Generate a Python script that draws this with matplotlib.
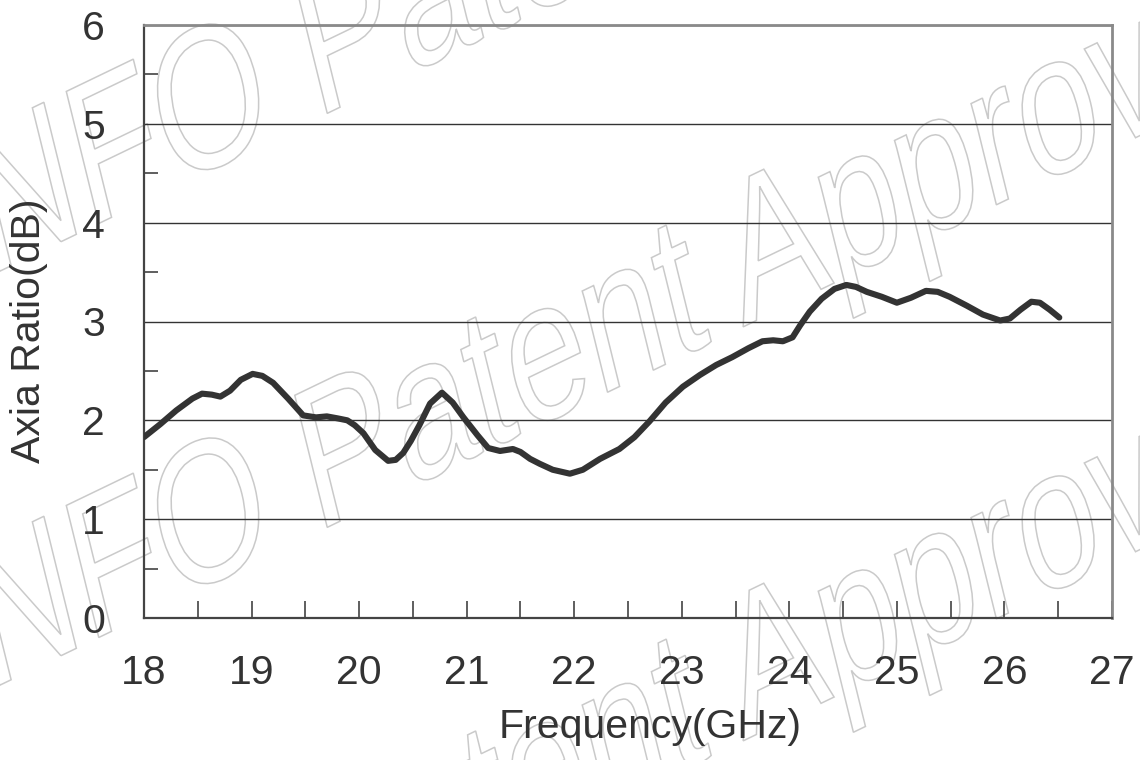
import matplotlib
matplotlib.use("Agg")
import matplotlib.pyplot as plt
from matplotlib.patches import PathPatch
from matplotlib.textpath import TextPath
from matplotlib.font_manager import FontProperties
from matplotlib.transforms import Affine2D, IdentityTransform
import numpy as np

# ---------- data ----------
freq_ghz = [18.00, 18.15, 18.30, 18.45, 18.54, 18.63, 18.71, 18.80, 18.90, 19.01,
            19.10, 19.20, 19.34, 19.48, 19.60, 19.70, 19.80, 19.89, 19.96, 20.04,
            20.15, 20.27, 20.34, 20.41, 20.48, 20.56, 20.66, 20.77, 20.87, 20.97,
            21.10, 21.20, 21.31, 21.43, 21.50, 21.59, 21.68, 21.80, 21.96, 22.08,
            22.24, 22.42, 22.56, 22.70, 22.85, 23.01, 23.17, 23.32, 23.47, 23.62,
            23.75, 23.85, 23.94, 24.03, 24.10, 24.19, 24.30, 24.42, 24.53, 24.62,
            24.72, 24.86, 25.00, 25.13, 25.27, 25.38, 25.49, 25.65, 25.80, 25.96,
            26.05, 26.15, 26.25, 26.33, 26.42, 26.51]
axial_ratio_db = [1.83, 1.96, 2.10, 2.22, 2.27, 2.26, 2.24, 2.30, 2.41, 2.47,
                  2.45, 2.38, 2.22, 2.05, 2.03, 2.04, 2.02, 2.00, 1.95, 1.87,
                  1.70, 1.59, 1.60, 1.67, 1.79, 1.95, 2.17, 2.28, 2.18, 2.03,
                  1.85, 1.72, 1.69, 1.71, 1.68, 1.61, 1.56, 1.50, 1.46, 1.50,
                  1.61, 1.71, 1.83, 1.99, 2.18, 2.34, 2.46, 2.56, 2.64, 2.73,
                  2.80, 2.81, 2.80, 2.84, 2.96, 3.10, 3.23, 3.33, 3.37, 3.35,
                  3.30, 3.25, 3.19, 3.24, 3.31, 3.30, 3.25, 3.16, 3.07, 3.01,
                  3.03, 3.12, 3.20, 3.19, 3.12, 3.04]

x_ticks = [18, 19, 20, 21, 22, 23, 24, 25, 26, 27]
y_ticks = [0, 1, 2, 3, 4, 5, 6]
watermark = "INFO Patent Approved"

ink = "#333333"
plt.rcParams["font.family"] = ["Liberation Sans", "DejaVu Sans"]

fig = plt.figure(figsize=(11.4, 7.6), dpi=100)
ax = fig.add_axes([144 / 1140, 1 - 618 / 760, 968 / 1140, 593 / 760])

# faint outlined watermark (rotated, then stretched vertically), in figure pixels
wm_font = FontProperties(family="Liberation Sans")
tp = TextPath((0, 0), watermark, size=1, prop=wm_font)
o_right = TextPath((0, 0), "INFO", size=1, prop=wm_font).get_extents().x1
o_centre = np.array([o_right - 0.36, 0.36])
base = Affine2D().scale(145).rotate_deg(19).scale(1, 1.4)
for cx, cy in [(205, 760 - 95), (205, 760 - 509), (205, 760 - 923)]:
    shift = np.array([cx, cy]) - base.transform(o_centre)
    tr = base.frozen().translate(*shift)
    fig.add_artist(PathPatch(tr.transform_path(tp), facecolor="none", edgecolor="#cacaca",
                             lw=1.1, transform=IdentityTransform(), zorder=-1))

ax.patch.set_alpha(0)
ax.plot(freq_ghz, axial_ratio_db, color=ink, lw=4.4, solid_joinstyle="round",
        solid_capstyle="round", zorder=3)

ax.set_xlim(18, 27)
ax.set_ylim(0, 6)
ax.set_xticks(x_ticks)
ax.set_yticks(y_ticks)
ax.set_xticks(np.arange(18.5, 27, 1), minor=True)
ax.set_yticks(np.arange(0.5, 6, 1), minor=True)
ax.yaxis.grid(True, which="major", color=ink, lw=1.0)
ax.set_axisbelow(True)

ax.tick_params(axis="x", which="both", direction="in", length=12, width=1.1, color=ink,
               labelsize=29.5, labelcolor=ink, pad=26)
ax.tick_params(axis="y", which="major", direction="in", length=0, labelsize=29.5,
               labelcolor=ink, pad=28)
ax.tick_params(axis="y", which="minor", direction="in", length=10, width=1.1, color=ink)

for side in ["left", "bottom"]:
    ax.spines[side].set_color("#444444")
    ax.spines[side].set_linewidth(1.6)
for side in ["top", "right"]:
    ax.spines[side].set_color("#8a8a8a")
    ax.spines[side].set_linewidth(2.0)

ax.set_xlabel("Frequency(GHz)", fontsize=29.5, color=ink)
ax.xaxis.set_label_coords(0.523, -0.152)
ax.set_ylabel("Axia Ratio(dB)", fontsize=29.5, color=ink)
ax.yaxis.set_label_coords(-0.099, 0.484)

fig.savefig("out.png", dpi=100)
